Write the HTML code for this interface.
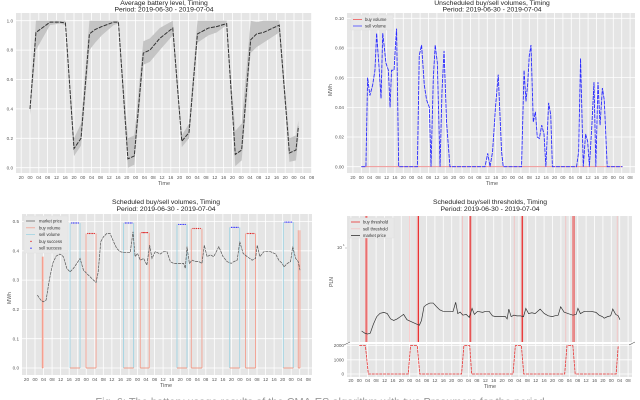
<!DOCTYPE html>
<html><head><meta charset="utf-8"><style>
html,body{margin:0;padding:0;background:#fff;width:640px;height:400px;overflow:hidden}
svg{display:block;font-family:"Liberation Sans",sans-serif}
</style></head><body>
<svg id="fig" width="640" height="400" viewBox="0 0 640 400" xmlns="http://www.w3.org/2000/svg"></svg>
<script>
// ---- shared tick labels ----
const xTickLabels = ["20","00","04","08","12","16","20","00","04","08","12","16","20","00","04","08","12","16","20","00","04","08","12","16","20","00","04","08","12","16","20","00","04","08"];
// ---- panel 1: battery ----
const batHours = [0,2.7,9.1,13.6,16.1,20,23.2,27,29.6,32.6,38,40.2,44.5,47.4,51.5,54.5,59,64.9,69,72.3,76.1,81.1,84.8,89.4,93.3,96.2,100.3,103,106.1,113.3,117.9,120.9,122];
const batMean = [0.40,0.92,0.99,0.99,0.985,0.13,0.20,0.91,0.94,0.96,0.99,0.99,0.06,0.08,0.78,0.80,0.88,0.95,0.18,0.24,0.91,0.95,0.96,0.98,0.09,0.12,0.87,0.91,0.92,0.97,0.10,0.12,0.28];
const batUpper = [0.40,1.0,1.0,1.0,1.0,0.20,0.30,1.0,1.0,1.0,1.0,1.0,0.20,0.22,0.86,0.88,0.95,1.0,0.22,0.30,1.0,1.0,1.0,1.0,0.25,0.30,1.0,0.99,1.0,1.0,0.20,0.22,0.32];
const batLower = [0.36,0.80,0.97,0.98,0.97,0.08,0.15,0.80,0.85,0.90,0.97,0.98,0.0,0.02,0.70,0.72,0.80,0.90,0.14,0.20,0.85,0.90,0.92,0.97,0.01,0.05,0.78,0.82,0.85,0.92,0.04,0.05,0.20];
const batYTicks = [0,0.2,0.4,0.6,0.8,1.0];
const batYLabels = ["0.0","0.2","0.4","0.6","0.8","1.0"];
// ---- panel 2: unscheduled ----
const sellHours = [0,2.2,3,4.1,5.4,6.5,7.3,8.3,9.4,10.2,11,11.7,12.9,13.7,14.4,15.6,16.2,16.8,17.8,26.7,27.6,28.7,30,31.1,32.4,33.2,34.3,35.2,36.2,37.5,38.4,39.4,40.6,42.2,58.9,60.2,61.3,62.5,63.9,65.2,66.8,67.6,76.3,77.5,78.4,79.2,80,80.8,81.9,82.9,83.8,84.8,85.9,87,87.9,89.2,90.2,91,102.5,103.5,104.4,105.7,106.8,107.8,108.6,109.8,110.8,111.7,112.7,113.7,114.8,115.7,117.1,124.4];
const sellVol = [0,0,0.06,0.048,0.055,0.065,0.09,0.07,0.046,0.09,0.08,0.07,0.065,0.04,0.065,0.065,0.08,0.093,0,0,0.075,0.082,0.055,0.045,0.04,0,0.06,0.082,0.07,0,0.05,0.078,0.03,0,0,0.009,0,0.01,0.04,0.062,0.01,0,0,0.065,0.044,0.055,0.075,0.082,0.03,0.037,0.02,0.019,0.028,0.022,0,0.043,0.035,0,0,0.01,0.073,0,0.022,0.017,0,0.028,0.057,0,0.057,0.028,0.053,0.045,0,0];
const volYTicks = [0,0.02,0.04,0.06,0.08,0.10];
const volYLabels = ["0.00","0.02","0.04","0.06","0.08","0.10"];
// ---- panel 3/4: market price ----
const priceHours = [1.1,2.7,3.9,5.2,6.7,8.3,9.9,11.7,13.3,14.9,16.4,18,19.6,21.1,22.7,25,27.4,28.6,29.6,30.8,32.1,33.6,35.2,36.8,38.3,39.9,41.5,44.6,45.9,46.9,48,49.3,50.9,52.4,53.7,54.8,56.3,58.7,60.2,61.8,63.4,64.9,66.5,69.6,70.4,71.2,72.3,73.6,75.1,76.7,78.2,79.3,80.6,82.2,83.7,86.1,88.1,90,91.9,93.1,94.7,95.9,97.5,99.4,101.7,103.3,104.1,105.3,107.2,110.3,112.7,114.2,115.8,116.6,118.2,119.7,120.7,122.1,123.3,124.1];
const priceVal = [0.249,0.232,0.226,0.232,0.300,0.357,0.382,0.389,0.380,0.340,0.328,0.340,0.357,0.374,0.334,0.317,0.300,0.292,0.328,0.431,0.448,0.459,0.459,0.431,0.408,0.397,0.394,0.394,0.465,0.380,0.391,0.368,0.374,0.351,0.419,0.374,0.397,0.389,0.397,0.397,0.363,0.357,0.357,0.357,0.340,0.414,0.357,0.368,0.363,0.363,0.357,0.419,0.380,0.386,0.380,0.414,0.380,0.363,0.357,0.363,0.368,0.431,0.391,0.380,0.368,0.374,0.419,0.380,0.397,0.397,0.389,0.368,0.357,0.345,0.357,0.363,0.414,0.374,0.363,0.334];
const buyStart = [3.4,23.9,49.3,73.2,98.6,123.3];
const buyEnd = [3.8,28.6,53.5,78.2,103.3,124.1];
const buyLevel = [0.38,0.459,0.462,0.476,0.459,0.47];
const sellStart = [16.4,41.5,66.5,91.2,116.3];
const sellEnd = [21.1,46.2,71.2,95.9,121];
const sellLevel = [0.495,0.495,0.49,0.48,0.498];
const schedYTicks = [0,0.1,0.2,0.3,0.4,0.5];
const schedYLabels = ["0.0","0.1","0.2","0.3","0.4","0.5"];
// ---- panel 4: thresholds ----
const thrHours = [0,2.9,4.3,23.3,24.4,27.6,28.8,48.7,49.8,52.6,53.5,73.2,74.3,77.2,78.3,97.8,98.9,101.7,102.8,122.3,123.3];
const thrVal = [2000,2000,0,0,2000,2000,0,0,2000,2000,0,0,2000,2000,0,0,2000,2000,0,0,2000];
const thrYTicks = [0,1000,2000];
const thrYLabels = ["0","1000","2000"];

const NS="http://www.w3.org/2000/svg";
const svg=document.getElementById('fig');
function mk(tag,attrs,parent){const e=document.createElementNS(NS,tag);for(const k in attrs)e.setAttribute(k,attrs[k]);(parent||svg).appendChild(e);return e;}
function txt(s,x,y,size,anchor,parent,fill){const t=mk('text',{x:x,y:y,'font-size':size,'text-anchor':anchor||'middle',fill:fill||'#555'},parent);t.textContent=s;return t;}

function panel(name,L,R,T,B,xh,ticksY,yfn,yLabels,labelY){
  const g=mk('g',{});
  
  
  const bg=mk('rect',{x:L,y:T,width:R-L,height:B-T,fill:'#e5e5e5'},g);
  
  
  for(let i=0;i<xTickLabels.length;i++){
    const x=xh(-4+4*i);
    if(x>=L-0.5&&x<=R+0.5) mk('line',{x1:x,x2:x,y1:T,y2:B,stroke:'#fff','stroke-width':0.8},g);
    const t=txt(xTickLabels[i],x,labelY||(B+6),4.6,'middle',g);
    
    
  }
  if(ticksY){for(let i=0;i<ticksY.length;i++){
    const y=yfn(ticksY[i]);
    mk('line',{x1:L,x2:R,y1:y,y2:y,stroke:'#fff','stroke-width':0.8},g);
    const t=txt(yLabels[i],L-3,y+1.6,4.6,'end',g);
    
    
  }}
  return g;
}
function path(pts){return pts.map((p,i)=>(i?'L':'M')+p[0].toFixed(2)+','+p[1].toFixed(2)).join('');}
function titles(cx,y1,t1,y2,t2,xlab,xy){
  let a=txt(t1,cx,y1,6.8,'middle',svg,'#222');
  let b=txt(t2,cx,y2,6.8,'middle',svg,'#222');
  let c=txt(xlab,cx,xy,5.5,'middle',svg,'#555');
}
function ylab(s,x,y){const t=txt(s,x,y,5,'middle',svg,'#555');t.setAttribute('transform','rotate(-90 '+x+' '+y+')');}

// ===== Panel 1 =====
{
 const xh=h=>30+2.2*h, yv=v=>167.7-v*147;
 const g=panel('battery-chart',16,312,13,173,xh,batYTicks,yv,batYLabels);
 const up=batHours.map((h,i)=>[xh(h),yv(batUpper[i])]);
 const lo=batHours.map((h,i)=>[xh(h),yv(batLower[i])]).reverse();
 const band=mk('path',{d:path(up.concat(lo))+'Z',fill:'#c4c4c4'},g);
 
 
 const ln=mk('path',{d:path(batHours.map((h,i)=>[xh(h),yv(batMean[i])])),fill:'none',stroke:'#333','stroke-width':1,'stroke-dasharray':'4 1.2'},g);
 
 
 titles(164,5,'Average battery level, Timing',11.5,'Period: 2019-06-30 - 2019-07-04','Time',185);
}
// ===== Panel 2 =====
{
 const xh=h=>361.3+2.1*h, yv=v=>166.7-v*1484;
 const g=panel('unscheduled-volume-chart',347,635,13,173,xh,volYTicks,yv,volYLabels);
 const b=mk('path',{d:path([[xh(0),yv(0)],[xh(124.4),yv(0)]]),fill:'none',stroke:'#e88','stroke-width':0.8},g);
 
 const s=mk('path',{d:path(sellHours.map((h,i)=>[xh(h),yv(sellVol[i])])),fill:'none',stroke:'#2a2aff','stroke-width':0.9,'stroke-dasharray':'4 1'},g);
 
 const lg=mk('g',{},g);
 mk('rect',{x:351,y:15,width:42,height:15,fill:'#e8e8e8',stroke:'#ddd','stroke-width':0.4},lg);
 mk('line',{x1:353,x2:362,y1:19.5,y2:19.5,stroke:'#e55','stroke-width':0.8},lg);
 mk('line',{x1:353,x2:362,y1:26,y2:26,stroke:'#44f','stroke-width':0.8},lg);
 txt('buy volume',365,21,4.2,'start',lg,'#333');txt('sell volume',365,27.5,4.2,'start',lg,'#333');
 titles(492,5,'Unscheduled buy/sell volumes, Timing',11.5,'Period: 2019-06-30 - 2019-07-04','Time',185);
 ylab('MWh',332,90);
}
// ===== Panel 3 =====
{
 const xh=h=>35+2.135*h, yv=v=>368-v*293;
 const g=panel('scheduled-volume-chart',22,312,214,375,xh,schedYTicks,yv,schedYLabels,381);
 for(let i=0;i<sellStart.length;i++){
   const d=path([[xh(sellStart[i]),yv(0)],[xh(sellStart[i]),yv(sellLevel[i])]])+path([[xh(sellEnd[i]),yv(sellLevel[i])],[xh(sellEnd[i]),yv(0)]]);
   const p=mk('path',{d:d,fill:'none',stroke:'#9fd3e3','stroke-width':0.9},g);
   
   mk('line',{x1:xh(sellStart[i]),x2:xh(sellEnd[i]),y1:yv(0),y2:yv(0),stroke:'#f08a70','stroke-width':0.8},g);
   for(let k=0;k<5;k++){const c=mk('circle',{cx:xh(sellStart[i]+0.8+k*(sellEnd[i]-sellStart[i]-1.6)/4),cy:yv(sellLevel[i]),r:0.6,fill:'#2a2aff'},g);
     }
 }
 for(let i=0;i<buyStart.length;i++){
   const d=path([[xh(buyStart[i]),yv(0)],[xh(buyStart[i]),yv(buyLevel[i])]])+path([[xh(buyEnd[i]),yv(buyLevel[i])],[xh(buyEnd[i]),yv(0)]]);
   const p=mk('path',{d:d,fill:'none',stroke:'#f4a090','stroke-width':0.9},g);
   
   mk('line',{x1:xh(buyStart[i]),x2:xh(buyEnd[i]),y1:yv(0),y2:yv(0),stroke:'#f08a70','stroke-width':0.8},g);
   if(buyEnd[i]-buyStart[i]>2){for(let k=0;k<5;k++){const c=mk('circle',{cx:xh(buyStart[i]+0.8+k*(buyEnd[i]-buyStart[i]-1.6)/4),cy:yv(buyLevel[i]),r:0.6,fill:'#e02020'},g);
     }}
 }
 const m=mk('path',{d:path(priceHours.map((h,i)=>[xh(h),yv(priceVal[i])])),fill:'none',stroke:'#555','stroke-width':0.7,'stroke-dasharray':'3 0.8'},g);
 
 const lg=mk('g',{},g);
 mk('rect',{x:24,y:216,width:44,height:37,fill:'#e8e8e8',stroke:'#ddd','stroke-width':0.4},lg);
 const items=[['market price','#666','l'],['buy volume','#f4a090','l'],['sell volume','#9fd3e3','l'],['buy success','#e02020','d'],['sell success','#2a2aff','d']];
 items.forEach((it,i)=>{const y=221+i*6.8;
   if(it[2]=='l')mk('line',{x1:26,x2:35,y1:y,y2:y,stroke:it[1],'stroke-width':0.8},lg);else mk('circle',{cx:31,cy:y,r:0.7,fill:it[1]},lg);
   txt(it[0],39,y+1.5,4.2,'start',lg,'#333');});
 titles(166,204,'Scheduled buy/sell volumes, Timing',210.8,'Period: 2019-06-30 - 2019-07-04','Time',387);
 ylab('MWh',11,298);
}
// ===== Panel 4 =====
{
 const xh=h=>359.3+2.1*h;
 const yU=v=>331-(v-0.249)*133, yL=v=>374-v*0.0142;
 const g=panel('threshold-chart',347,632,216,342,xh,null,null,null,382);
 const gl=mk('g',{});
 mk('rect',{x:347,y:344,width:285,height:33,fill:'#e5e5e5'},gl);
 for(let i=0;i<xTickLabels.length;i++){const x=xh(-4+4*i);if(x>=346.5&&x<=632.5)mk('line',{x1:x,x2:x,y1:344,y2:377,stroke:'#fff','stroke-width':0.8},gl);}
 for(let i=0;i<thrYTicks.length;i++){const y=yL(thrYTicks[i]);mk('line',{x1:347,x2:632,y1:y,y2:y,stroke:'#fff','stroke-width':0.8},gl);
   const t=txt(thrYLabels[i],344,y+1.6,4.6,'end',gl);}
 mk('rect',{x:347,y:342,width:285,height:2,fill:'#fff'});
 const tl=mk('path',{d:path(thrHours.map((h,i)=>[xh(h),yL(thrVal[i])])),fill:'none',stroke:'#e83030','stroke-width':0.8,'stroke-dasharray':'3 0.8'},gl);
 
 for(let i=1;i<thrHours.length;i++){if(thrVal[i]!==thrVal[i-1]){
   const x=xh((thrHours[i]+thrHours[i-1])/2);
   const up=thrVal[i]>thrVal[i-1];
   const ln=mk('line',{x1:x,x2:x,y1:216,y2:342,stroke:up?'#f8b0b0':'#e83030','stroke-width':up?0.6:1},g);
   
   if(!up){const l2=mk('line',{x1:x-1.3,x2:x-1.3,y1:216,y2:342,stroke:'#f06060','stroke-width':0.6},g);
     }}}
 const m=mk('path',{d:path(priceHours.map((h,i)=>[xh(h),yU(priceVal[i])])),fill:'none',stroke:'#333','stroke-width':0.7},g);
 
 txt('10',342,249,4.6,'end',g);txt('1',343,246,3,'start',g);
 mk('line',{x1:345,x2:347,y1:248,y2:248,stroke:'#999','stroke-width':0.5},g);
 mk('path',{d:'M344,345 l6,-3 M629,345 l6,-3',stroke:'#333','stroke-width':0.5,fill:'none'});
 const lg=mk('g',{},g);
 mk('rect',{x:349,y:218,width:45,height:20,fill:'#e8e8e8',stroke:'#ddd','stroke-width':0.4},lg);
 [['buy threshold','#e83030'],['sell threshold','#f3c4c4'],['market price','#333']].forEach((it,i)=>{const y=222+i*6.8;
   mk('line',{x1:351,x2:360,y1:y,y2:y,stroke:it[1],'stroke-width':0.8},lg);txt(it[0],363,y+1.5,4.2,'start',lg,'#333');});
 titles(490,204,'Scheduled buy/sell thresholds, Timing',210.8,'Period: 2019-06-30 - 2019-07-04','Time',388);
 ylab('PLN',333,282);
}
// caption fragment
const cap=txt('Fig. 6: The battery usage results of the CMA-ES algorithm with two Prosumers for the period',320,405.5,11,'middle',svg,'#999');


</script>
</body></html>
